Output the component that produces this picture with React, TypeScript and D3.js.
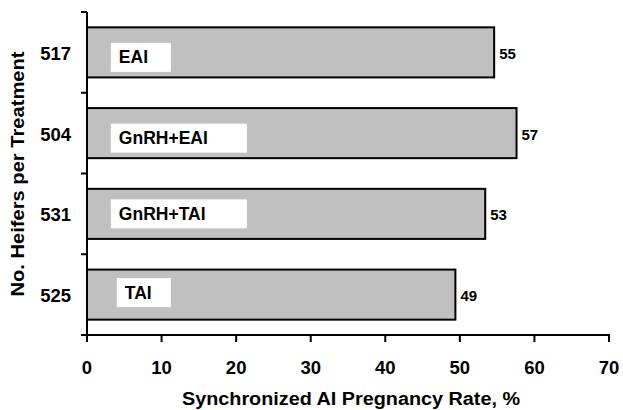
import React from "react";
import * as d3 from "d3";

// heifers per treatment, top to bottom
const heifers = ["517", "504", "531", "525"];
const treatments = ["EAI", "GnRH+EAI", "GnRH+TAI", "TAI"];
const pregRate = [54.6, 57.6, 53.4, 49.4];
const rateLabels = ["55", "57", "53", "49"];
const xTicks = [0, 10, 20, 30, 40, 50, 60, 70];

// white label box look (start in axis units, width in px, vertical shift in px)
const boxStart = [3.2, 3.2, 3.2, 4.0];
const boxWidth = [60, 136, 136, 54];
const boxShift = [5, 5, 0, -2];

const W = 623;
const H = 410;
const font = "'Liberation Sans', Arial, sans-serif";

const App: React.FC = () => {
  const x = d3.scaleLinear().domain([0, 70]).range([87, 609]);
  const y = d3.scaleBand<string>().domain(heifers).range([12, 335]).padding(0);
  const bw = y.bandwidth();
  const barH = bw * 0.62;
  const boxH = 29;

  const bandEdges = heifers.map((h) => y(h) as number).concat([335]);

  return (
    <svg
      width={W}
      height={H}
      style={{ position: "absolute", left: 0, top: 0, background: "#fff" }}
      fontFamily={font}
      fontWeight="bold"
    >
      {heifers.map((h, i) => {
        const cy = (y(h) as number) + bw / 2;
        const bx0 = x(boxStart[i]);
        const by = cy - boxH / 2 + boxShift[i];
        return (
          <g key={h}>
            <rect
              x={x(0)}
              y={cy - barH / 2}
              width={x(pregRate[i]) - x(0)}
              height={barH}
              fill="#c0c0c0"
              stroke="#000"
              strokeWidth={2}
            />
            <rect x={bx0} y={by} width={boxWidth[i]} height={boxH} fill="#fff" />
            <text
              x={bx0 + 8}
              y={by + boxH / 2}
              dominantBaseline="central"
              fontSize={17.5}
              fill="#000"
            >
              {treatments[i]}
            </text>
            <text
              x={x(pregRate[i]) + 5}
              y={cy + 1}
              dominantBaseline="central"
              fontSize={15}
              fill="#000"
            >
              {rateLabels[i]}
            </text>
            <text
              x={71}
              y={cy + 1}
              textAnchor="end"
              dominantBaseline="central"
              fontSize={18.5}
              fill="#000"
            >
              {h}
            </text>
          </g>
        );
      })}

      {/* y axis */}
      <line x1={x(0)} x2={x(0)} y1={12} y2={336} stroke="#000" strokeWidth={2} />
      {bandEdges.map((e, i) => (
        <line key={i} x1={81} x2={x(0)} y1={e} y2={e} stroke="#000" strokeWidth={2} />
      ))}

      {/* x axis */}
      <line x1={x(0) - 1} x2={x(70) + 1} y1={335} y2={335} stroke="#000" strokeWidth={2} />
      {xTicks.map((t) => (
        <g key={t}>
          <line x1={x(t)} x2={x(t)} y1={335} y2={342} stroke="#000" strokeWidth={2} />
          <text x={x(t)} y={374} textAnchor="middle" fontSize={18.5} fill="#000">
            {t}
          </text>
        </g>
      ))}

      <text
        x={351}
        y={405}
        textAnchor="middle"
        fontSize={17.5}
        textLength={338}
        lengthAdjust="spacingAndGlyphs"
        fill="#000"
      >
        Synchronized AI Pregnancy Rate, %
      </text>
      <text
        transform="translate(24,174) rotate(-90)"
        textAnchor="middle"
        fontSize={18}
        textLength={245}
        lengthAdjust="spacingAndGlyphs"
        fill="#000"
      >
        No. Heifers per Treatment
      </text>
    </svg>
  );
};

export default App;
